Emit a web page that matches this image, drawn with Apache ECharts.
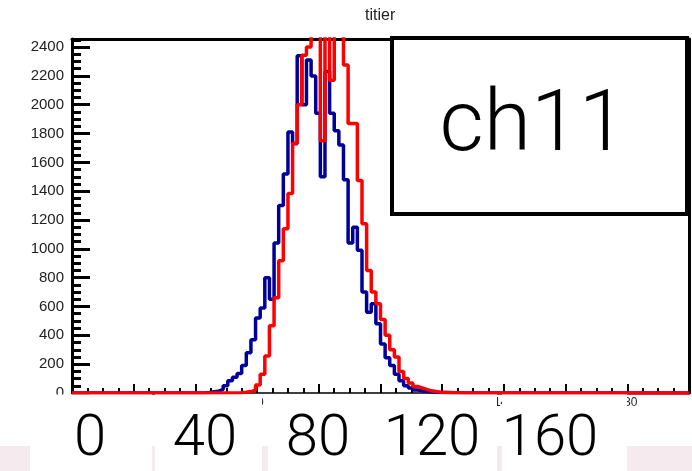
<!DOCTYPE html>
<html><head><meta charset="utf-8">
<script src="https://cdn.jsdelivr.net/npm/echarts@6/dist/echarts.min.js"></script>
<style>html,body{margin:0;padding:0;background:#fff}#c{width:692px;height:471px}</style>
</head><body><div id="c"></div>
<script>
// ---- data ----
const chartTitle = 'titier';
const boxLabel = 'ch11';
const xRange = [0, 200];
const yRange = [0, 2456];
const overlayLabels = ['0', '40', '80', '120', '160'];
const binStart = 40;
const binWidth = 1.5;
const blueCounts = [0,0,3,8,12,25,50,85,110,135,190,280,370,520,590,800,650,1040,1300,1520,1810,1730,2340,2000,2310,2200,1940,1500,2230,1940,1820,1720,1480,1040,1150,990,700,560,620,480,340,245,190,130,85,50,35,20,15,10,8,5,4,3,2,2,1,0,0,0,0,0,0,0,0,0];
const redCounts  = [0,0,0,0,0,0,0,0,0,2,5,10,20,55,130,257,466,660,918,1140,1384,1732,2000,2344,2400,2600,2600,1750,2600,2170,2600,2600,2275,1870,1870,1475,1175,850,700,620,510,400,300,250,150,100,70,45,35,25,15,10,6,4,3,2,1,0,0,0,0,0,0,0,0,0];

function toSteps(counts) {
  const pts = [[xRange[0], 0], [binStart, 0]];
  counts.forEach((v, i) => pts.push([binStart + i * binWidth, v]));
  const end = binStart + counts.length * binWidth;
  pts.push([end, 0]);
  pts.push([xRange[1], 0]);
  return pts;
}

const chart = echarts.init(document.getElementById('c'), null, {renderer: 'canvas'});
const black = '#000';
const labelFont = 'Liberation Sans';
const bigFont = 'Roboto';

// overlay layout (bottom white boxes / pink strips)
const whiteBoxes = [[30,152],[155,262],[268,497],[502,627]];
const pinkStrips = [[0,30],[152,155],[262,268],[497,502],[627,692]];
const bigLabelX = [90, 205, 318, 432, 550];

const graphics = [];
whiteBoxes.forEach(([a,b]) => graphics.push({type:'rect', z:100, shape:{x:a, y:394.5, width:b-a, height:80}, style:{fill:'#fff'}}));
pinkStrips.forEach(([a,b]) => graphics.push({type:'rect', z:100, shape:{x:a, y:446, width:b-a, height:30}, style:{fill:'#f5eaee'}}));
overlayLabels.forEach((t, i) => graphics.push({type:'text', z:101, x:bigLabelX[i], y:440, style:{text:t, fontFamily:bigFont, fontWeight:300, fontSize:58, fill:'#000', align:'center', verticalAlign:'middle'}}));
graphics.push({type:'rect', z:100, shape:{x:392, y:38, width:295, height:176}, style:{fill:'#fff', stroke:'#000', lineWidth:4}});
graphics.push({type:'text', z:101, x:533, y:128, style:{text:boxLabel, fontFamily:bigFont, fontWeight:300, fontSize:86, fill:'#000', align:'center', verticalAlign:'middle'}});

chart.setOption({
  animation: false,
  backgroundColor: '#fff',
  title: {text: chartTitle, left: 360, top: 3, textStyle: {fontFamily: labelFont, fontWeight: 'normal', fontSize: 16, color: '#222'}},
  grid: {left: 72, right: 3, top: 39, bottom: 78, containLabel: false},
  xAxis: [{
    type: 'value', position: 'bottom', min: xRange[0], max: xRange[1], interval: 20,
    axisLine: {onZero: false, lineStyle: {color: black, width: 1.5}},
    axisTick: {inside: true, length: 9, lineStyle: {color: black, width: 2}},
    minorTick: {show: true, splitNumber: 4, length: 5, lineStyle: {color: black, width: 2}},
    axisLabel: {fontFamily: labelFont, fontSize: 12, color: '#222', margin: 4, showMaxLabel: false, formatter: v => String(v)},
    splitLine: {show: false}
  }, {
    type: 'value', position: 'top', min: xRange[0], max: xRange[1],
    axisLine: {onZero: false, lineStyle: {color: black, width: 3}},
    axisTick: {show: false}, axisLabel: {show: false}, splitLine: {show: false}
  }],
  yAxis: [{
    type: 'value', position: 'left', min: yRange[0], max: yRange[1], interval: 200,
    axisLine: {show: true, onZero: false, lineStyle: {color: black, width: 3}},
    axisTick: {inside: true, length: 18, lineStyle: {color: black, width: 3}},
    minorTick: {show: true, splitNumber: 4, length: 9, lineStyle: {color: black, width: 3}},
    axisLabel: {fontFamily: labelFont, fontSize: 15, color: '#222', margin: 8, showMaxLabel: false, formatter: v => String(v)},
    splitLine: {show: false}
  }, {
    type: 'value', position: 'right', min: yRange[0], max: yRange[1],
    axisLine: {show: true, onZero: false, lineStyle: {color: black, width: 3}},
    axisTick: {show: false}, axisLabel: {show: false}, splitLine: {show: false}
  }],
  series: [{
    type: 'line', step: 'end', data: toSteps(blueCounts), showSymbol: false, symbol: 'none',
    lineStyle: {color: '#000099', width: 3.5}, z: 3, clip: true
  }, {
    type: 'line', step: 'end', data: toSteps(redCounts), showSymbol: false, symbol: 'none',
    lineStyle: {color: '#ff0000', width: 3.5}, z: 4, clip: true
  }],
  graphic: graphics
});
</script></body></html>
